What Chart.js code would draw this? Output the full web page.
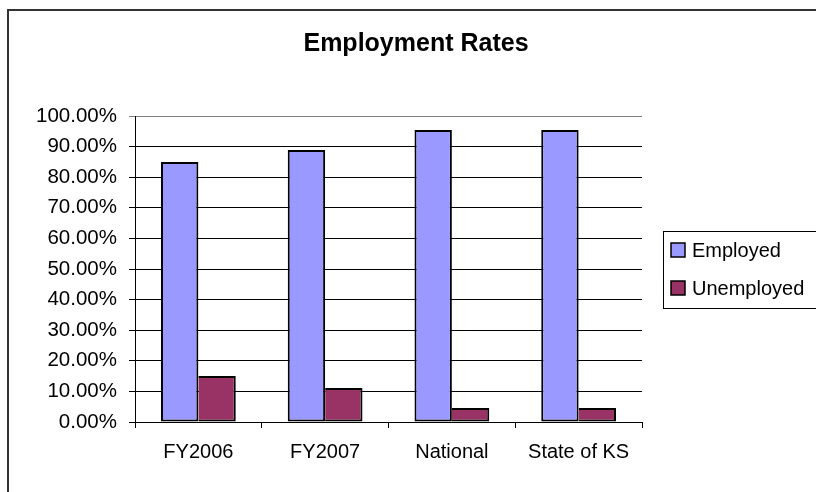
<!DOCTYPE html>
<html>
<head>
<meta charset="utf-8">
<title>Employment Rates</title>
<script src="https://cdn.jsdelivr.net/npm/chart.js@4.4.1/dist/chart.umd.min.js"></script>
<style>
  html, body { margin: 0; padding: 0; background: #fff; }
  #wrap { width: 816px; height: 492px; position: relative; }
</style>
</head>
<body>
<div id="wrap"><canvas id="ratechart"></canvas></div>
<script>
const categories = ['FY2006', 'FY2007', 'National', 'State of KS'];
const employed = [85.0, 88.9, 95.4, 95.4];
const unemployed = [15.0, 11.1, 4.6, 4.6];
const yTicks = [0, 10, 20, 30, 40, 50, 60, 70, 80, 90, 100];

const fontFamily = '"Liberation Sans", Arial, sans-serif';

// frame around the whole chart (only top and left edges fall inside the canvas)
const chartFrame = {
    id: 'chartFrame',
    beforeDraw(chart) {
        const ctx = chart.ctx;
        ctx.save();
        ctx.strokeStyle = '#333';
        ctx.lineWidth = 2;
        ctx.beginPath();
        ctx.moveTo(8, chart.height + 5);
        ctx.lineTo(8, 10);
        ctx.lineTo(chart.width + 5, 10);
        ctx.stroke();
        ctx.restore();
    }
};

// boxed legend on the right, vertically centred on the plot area
const boxLegend = {
    id: 'boxLegend',
    afterDraw(chart) {
        const ctx = chart.ctx;
        const area = chart.chartArea;
        const left = area.right + 21;
        const mid = (area.top + area.bottom) / 2;
        const top = Math.round(mid - 38) + 0.5;
        ctx.save();
        ctx.strokeStyle = '#000';
        ctx.lineWidth = 1;
        ctx.strokeRect(left + 0.5, top, chart.width, 77);
        ctx.font = '20px ' + fontFamily;
        ctx.textBaseline = 'middle';
        ctx.textAlign = 'left';
        chart.data.datasets.forEach((ds, i) => {
            const cy = mid - 19 + i * 38;
            ctx.fillStyle = ds.backgroundColor;
            ctx.fillRect(left + 8, cy - 7, 14, 14);
            ctx.lineWidth = 1.5;
            ctx.strokeRect(left + 8, cy - 7, 14, 14);
            ctx.fillStyle = '#000';
            ctx.fillText(ds.label, left + 29, cy + 1);
        });
        ctx.restore();
    }
};

const ctx = document.getElementById('ratechart').getContext('2d');
const ratechart = new Chart(ctx, {
    type: 'bar',
    data: {
        labels: categories,
        datasets: [{
            label: 'Employed',
            data: employed,
            backgroundColor: '#9999FF',
            borderColor: '#000',
            borderWidth: 2,
            borderSkipped: false
        }, {
            label: 'Unemployed',
            data: unemployed,
            backgroundColor: '#993366',
            borderColor: '#000',
            borderWidth: 2,
            // shares its left edge with the Employed bar
            borderSkipped: 'left'
        }]
    },
    options: {
        responsive: true,
        maintainAspectRatio: false,
        animation: false,
        events: [],
        layout: { padding: { left: 16, right: 0, top: 0, bottom: 0 } },
        datasets: {
            bar: { categoryPercentage: 0.59, barPercentage: 1.0, inflateAmount: 0 }
        },
        plugins: {
            legend: { display: false },
            tooltip: { enabled: false },
            title: {
                display: true,
                text: 'Employment Rates',
                color: '#000',
                font: { family: fontFamily, size: 25, weight: 'bold' },
                padding: { top: 29, bottom: 57 }
            }
        },
        scales: {
            x: {
                grid: {
                    display: true,
                    drawOnChartArea: false,
                    drawTicks: true,
                    tickLength: 6,
                    color: '#000'
                },
                border: { display: true, color: '#000', width: 1 },
                ticks: {
                    color: '#000',
                    padding: 12,
                    font: { family: fontFamily, size: 20 }
                },
                afterFit(scale) { scale.height = 70; }
            },
            y: {
                min: 0,
                max: 100,
                afterBuildTicks(scale) {
                    scale.ticks = yTicks.map(v => ({ value: v }));
                },
                grid: {
                    color: c => (c.tick && c.tick.value === 100) ? '#808080' : '#000',
                    lineWidth: 1,
                    tickLength: 6
                },
                border: { display: true, color: '#000', width: 1 },
                ticks: {
                    color: '#000',
                    padding: 12,
                    font: { family: fontFamily, size: 20.5 },
                    callback: v => v.toFixed(2) + '%'
                },
                afterFit(scale) { scale.width = 119; }
            },
            // empty axis that keeps room for the legend on the right
            side: {
                type: 'linear',
                position: 'right',
                display: true,
                grid: { display: false },
                border: { display: false },
                ticks: { display: false },
                afterFit(scale) { scale.width = 174; }
            }
        }
    },
    plugins: [chartFrame, boxLegend]
});
</script>
</body>
</html>
